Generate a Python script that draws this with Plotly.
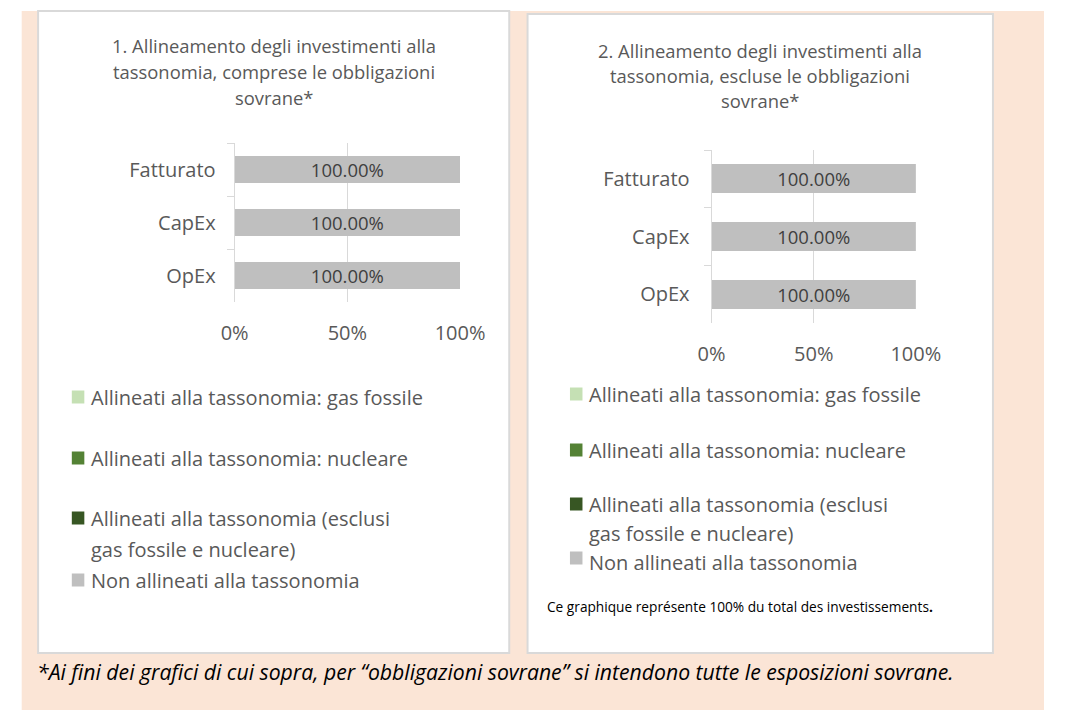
import plotly.graph_objects as go

# ---- data -------------------------------------------------------------
categories = ["Fatturato", "CapEx", "OpEx"]
series_names = [
    "Allineati alla tassonomia: gas fossile",
    "Allineati alla tassonomia: nucleare",
    "Allineati alla tassonomia (esclusi gas fossile e nucleare)",
    "Non allineati alla tassonomia",
]
series_colors = ["#C5E0B4", "#548235", "#375623", "#BFBFBF"]

# chart 1: including sovereign bonds
incl_gas = [0, 0, 0]
incl_nuclear = [0, 0, 0]
incl_other = [0, 0, 0]
incl_non = [100, 100, 100]

# chart 2: excluding sovereign bonds
excl_gas = [0, 0, 0]
excl_nuclear = [0, 0, 0]
excl_other = [0, 0, 0]
excl_non = [100, 100, 100]

x_tick_vals = [0, 50, 100]
x_tick_text = ["0%", "50%", "100%"]

title_1 = ["1. Allineamento degli investimenti alla",
           "tassonomia, comprese le obbligazioni", "sovrane*"]
title_2 = ["2. Allineamento degli investimenti alla",
           "tassonomia, escluse le obbligazioni", "sovrane*"]
legend_lines = [
    ["Allineati alla tassonomia: gas fossile"],
    ["Allineati alla tassonomia: nucleare"],
    ["Allineati alla tassonomia (esclusi", "gas fossile e nucleare)"],
    ["Non allineati alla tassonomia"],
]
note_text = "Ce graphique représente 100% du total des investissements"
footnote = ("*Ai fini dei grafici di cui sopra, per “obbligazioni sovrane” "
            "si intendono tutte le esposizioni sovrane.")

# ---- layout helpers (pixel -> paper) -----------------------------------
W, H = 1069, 710
FONT = "Open Sans"
TEXT_GREY = "#595959"
GRID = "#D9D9D9"


def px(x):
    return x / W


def py(y):
    return 1 - y / H


fig = go.Figure()

panels = [
    dict(xa="x", ya="y", data=[incl_gas, incl_nuclear, incl_other, incl_non]),
    dict(xa="x2", ya="y2", data=[excl_gas, excl_nuclear, excl_other, excl_non]),
]
for p in panels:
    for name, color, vals in zip(series_names, series_colors, p["data"]):
        is_non = name == series_names[-1]
        fig.add_trace(go.Bar(
            x=vals, y=categories, orientation="h", name=name,
            marker=dict(color=color, line=dict(width=0)),
            xaxis=p["xa"], yaxis=p["ya"], showlegend=False,
            texttemplate="%{x:.2f}%" if is_non else None,
            textposition="inside" if is_non else "none",
            insidetextanchor="middle", constraintext="none",
            textfont=dict(family=FONT, size=18.5, color="#404040"),
        ))

xaxis_common = dict(
    range=[0, 100], tickvals=x_tick_vals, ticktext=x_tick_text,
    showgrid=True, gridcolor=GRID, gridwidth=1, zeroline=False,
    showline=False, ticks="", ticklabelstandoff=17,
    tickfont=dict(family=FONT, size=20, color=TEXT_GREY), fixedrange=True,
)
yaxis_common = dict(
    type="category", categoryorder="array", categoryarray=categories,
    range=[2.5, -0.5], showgrid=False, zeroline=False,
    showline=True, linecolor=GRID, linewidth=1,
    ticks="outside", tickson="boundaries", ticklen=7, tickcolor=GRID,
    tickfont=dict(family=FONT, size=20, color=TEXT_GREY), fixedrange=True,
)

fig.update_layout(
    width=W, height=H, margin=dict(l=0, r=0, t=0, b=0),
    paper_bgcolor="white", plot_bgcolor="rgba(0,0,0,0)",
    barmode="stack", bargap=0.5, showlegend=False,
    font=dict(family=FONT, color=TEXT_GREY),
    xaxis=dict(domain=[px(229), px(463)], anchor="y", **xaxis_common),
    yaxis=dict(domain=[py(302), py(143)], anchor="x",
               ticklabelstandoff=14, **yaxis_common),
    xaxis2=dict(domain=[px(724), px(936)], anchor="y2", **xaxis_common),
    yaxis2=dict(domain=[py(323), py(150)], anchor="x2",
                ticklabelstandoff=17, **yaxis_common),
)

shapes = [
    # page background and the two chart panels
    dict(type="rect", xref="paper", yref="paper", x0=px(8), x1=1, y0=0, y1=py(11),
         fillcolor="#FBE5D6", line=dict(width=0), layer="below"),
    dict(type="rect", xref="paper", yref="paper", x0=px(25), x1=px(514),
         y0=py(653), y1=py(11), fillcolor="white",
         line=dict(color=GRID, width=2), layer="below"),
    dict(type="rect", xref="paper", yref="paper", x0=px(533), x1=px(1016),
         y0=py(653), y1=py(14), fillcolor="white",
         line=dict(color=GRID, width=2), layer="below"),
]
annotations = []


def add_title(lines, cx, ys):
    for text, y in zip(lines, ys):
        annotations.append(dict(
            text=text, xref="paper", yref="paper", x=px(cx), y=py(y),
            xanchor="center", yanchor="middle", showarrow=False,
            font=dict(family=FONT, size=18.4, color=TEXT_GREY)))


add_title(title_1, 269.5, [45, 72, 97])
add_title(title_2, 774.5, [50, 76, 100])


def add_legend(mx, tx, item_ys, marker_ys):
    for lines, color, ys, my in zip(legend_lines, series_colors, item_ys, marker_ys):
        shapes.append(dict(
            type="rect", xref="paper", yref="paper",
            x0=px(mx), x1=px(mx + 13), y0=py(my + 6.5), y1=py(my - 6.5),
            fillcolor=color, line=dict(width=0)))
        for text, y in zip(lines, ys):
            annotations.append(dict(
                text=text, xref="paper", yref="paper", x=px(tx), y=py(y),
                xanchor="left", yanchor="middle", showarrow=False,
                font=dict(family=FONT, size=20, color=TEXT_GREY)))


add_legend(60, 78, [[397], [458], [518, 549], [580]], [397, 458, 518, 580])
add_legend(577, 595, [[394], [450], [504, 533], [562]], [394, 450, 504, 558])

annotations.append(dict(
    text=note_text + "<b>.</b>", xref="paper", yref="paper",
    x=px(551), y=py(606), xanchor="left", yanchor="middle", showarrow=False,
    font=dict(family=FONT, size=13.7, color="#000000")))
annotations.append(dict(
    text="<i>" + footnote + "</i>", xref="paper", yref="paper",
    x=px(22), y=py(671), xanchor="left", yanchor="middle", showarrow=False,
    font=dict(family=FONT, size=21.2, color="#000000")))

fig.update_layout(shapes=shapes, annotations=annotations)

fig.write_html("out.html")
